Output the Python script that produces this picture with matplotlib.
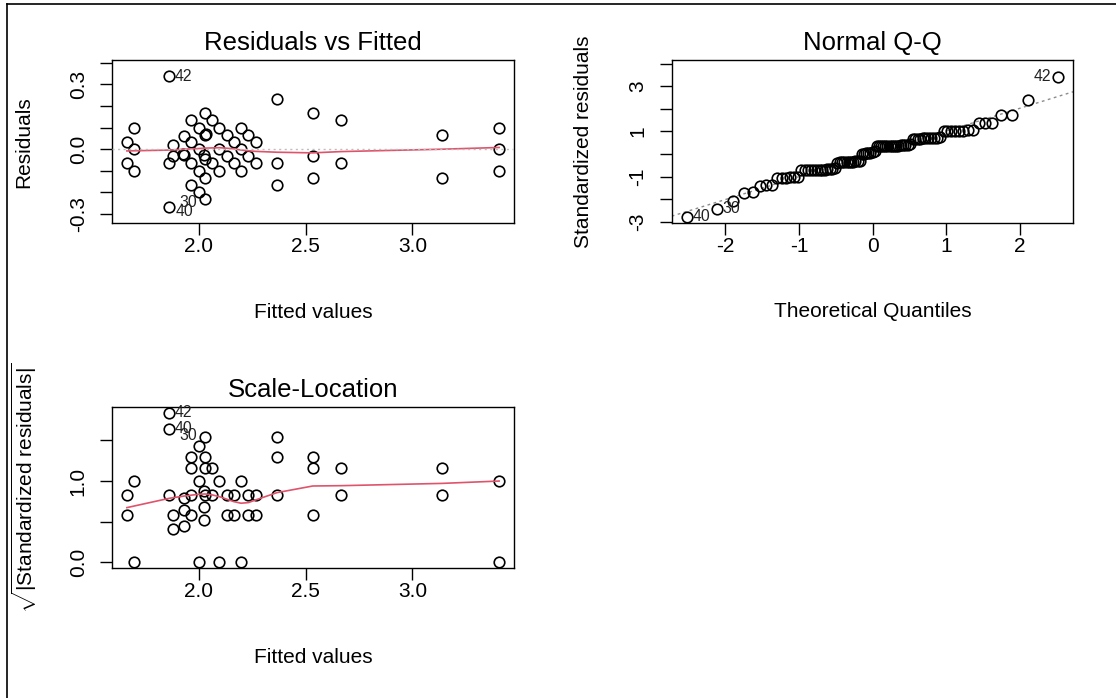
import matplotlib
matplotlib.use("Agg")
import matplotlib.pyplot as plt
from matplotlib.lines import Line2D

plt.rcParams['font.family'] = ['Liberation Sans', 'DejaVu Sans']
plt.rcParams['mathtext.fontset'] = 'custom'
plt.rcParams['mathtext.rm'] = 'Liberation Sans'
plt.rcParams['mathtext.it'] = 'Liberation Sans:italic'
plt.rcParams['mathtext.bf'] = 'Liberation Sans:bold'

# ---- Residuals vs Fitted ----
rvf_fitted = [1.664, 1.664, 1.698, 1.698, 1.698, 1.863, 1.863, 1.863, 1.881, 1.881,
              1.933, 1.933, 1.925, 1.964, 1.964, 1.964, 1.964, 2.000, 2.000, 2.000,
              2.000, 2.030, 2.030, 2.032, 2.023, 2.028, 2.030, 2.030, 2.064, 2.064,
              2.097, 2.097, 2.097, 2.131, 2.131, 2.164, 2.164, 2.198, 2.198, 2.198,
              2.233, 2.233, 2.266, 2.266, 2.366, 2.366, 2.366, 2.534, 2.534, 2.534,
              2.667, 2.667, 3.139, 3.139, 3.406, 3.406, 3.406]
rvf_resid = [0.033, -0.065, 0.100, 0.000, -0.100, 0.337, -0.065, -0.267, 0.020, -0.031,
             0.060, -0.027, -0.022, 0.135, 0.033, -0.065, -0.165, 0.100, 0.000, -0.100,
             -0.198, 0.168, 0.068, 0.072, -0.025, -0.045, -0.132, -0.232, 0.135, -0.065,
             0.100, 0.000, -0.100, 0.068, -0.031, 0.033, -0.065, 0.100, 0.000, -0.100,
             0.068, -0.031, 0.033, -0.065, 0.233, -0.065, -0.166, 0.168, -0.031, -0.132,
             0.135, -0.065, 0.068, -0.132, 0.100, 0.000, -0.100]
rvf_smooth_x = [1.664, 1.863, 1.933, 2.000, 2.030, 2.097, 2.164, 2.198, 2.266, 2.366,
                2.534, 2.667, 3.139, 3.406]
rvf_smooth_y = [-0.008, -0.004, 0.000, 0.003, 0.005, 0.007, 0.002, -0.004, -0.010, -0.014,
                -0.017, -0.011, 0.000, 0.008]
rvf_ids = {"42": 5, "40": 7, "30": 27}

# ---- Normal Q-Q ----
qq_theoretical = [-2.528, -2.114, -1.900, -1.748, -1.628, -1.529, -1.442, -1.364, -1.295, -1.231,
                  -1.172, -1.116, -1.064, -1.015, -0.967, -0.922, -0.879, -0.838, -0.797, -0.758,
                  -0.720, -0.684, -0.648, -0.612, -0.578, -0.544, -0.511, -0.479, -0.447, -0.415,
                  -0.384, -0.353, -0.322, -0.292, -0.262, -0.233, -0.203, -0.174, -0.145, -0.116,
                  -0.087, -0.058, -0.029, 0.000, 0.029, 0.058, 0.087, 0.116, 0.145, 0.174,
                  0.203, 0.233, 0.262, 0.292, 0.322, 0.353, 0.384, 0.415, 0.447, 0.479,
                  0.511, 0.544, 0.578, 0.612, 0.648, 0.684, 0.720, 0.758, 0.797, 0.838,
                  0.879, 0.922, 0.967, 1.015, 1.064, 1.116, 1.172, 1.231, 1.295, 1.364,
                  1.442, 1.529, 1.628, 1.748, 1.900, 2.114, 2.528]
qq_std_resid = [-2.78, -2.42, -2.08, -1.72, -1.70, -1.40, -1.39, -1.38,
                -1.06, -1.05, -1.05, -1.04, -1.03, -1.02,
                -0.72, -0.72, -0.71, -0.71, -0.70, -0.70, -0.70, -0.69, -0.69, -0.68, -0.67, -0.66, -0.64,
                -0.38, -0.37, -0.36, -0.36, -0.35, -0.35, -0.34, -0.34, -0.33, -0.32, -0.30,
                -0.02, 0.00, 0.02, 0.04, 0.06, 0.10, 0.15,
                0.33, 0.34, 0.34, 0.35, 0.35, 0.36, 0.36, 0.36, 0.37, 0.37, 0.37, 0.38, 0.38, 0.39, 0.40, 0.42,
                0.66, 0.67, 0.68, 0.68, 0.69, 0.69, 0.70, 0.70, 0.71, 0.72, 0.73,
                1.01, 1.02, 1.02, 1.03, 1.03, 1.03, 1.04, 1.05,
                1.36, 1.37, 1.39, 1.72, 1.74, 2.41, 3.43]
qq_line_intercept = 0.0
qq_line_slope = 1.01
qq_ids = {"40": 0, "30": 1, "42": 86}

# ---- Scale-Location ----
sl_fitted = [1.664, 1.664, 1.698, 1.698, 1.863, 1.863, 1.863, 1.881, 1.881, 1.933,
             1.933, 1.933, 1.964, 1.964, 1.964, 1.964, 2.000, 2.000, 2.000, 2.030,
             2.030, 2.030, 2.023, 2.030, 2.023, 2.023, 2.064, 2.064, 2.097, 2.097,
             2.131, 2.131, 2.164, 2.164, 2.198, 2.198, 2.233, 2.233, 2.266, 2.266,
             2.366, 2.366, 2.366, 2.534, 2.534, 2.534, 2.667, 2.667, 3.139, 3.139,
             3.406, 3.406]
sl_sqrt_std = [0.829, 0.584, 1.000, 0.000, 1.841, 1.645, 0.829, 0.584, 0.410, 0.790,
               0.645, 0.450, 1.300, 1.163, 0.829, 0.584, 1.430, 1.000, 0.000, 1.538,
               1.300, 1.163, 0.875, 0.829, 0.686, 0.518, 1.163, 0.829, 1.000, 0.000,
               0.829, 0.584, 0.829, 0.584, 1.000, 0.000, 0.829, 0.584, 0.829, 0.584,
               1.538, 1.300, 0.829, 1.300, 1.163, 0.584, 1.163, 0.829, 1.163, 0.829,
               1.000, 0.000]
sl_smooth_x = [1.664, 1.863, 1.933, 2.000, 2.030, 2.064, 2.097, 2.164, 2.198, 2.233,
               2.266, 2.366, 2.534, 2.667, 3.139, 3.406]
sl_smooth_y = [0.673, 0.788, 0.816, 0.837, 0.841, 0.829, 0.808, 0.747, 0.727, 0.735,
               0.767, 0.857, 0.939, 0.943, 0.971, 1.000]
sl_ids = {"42": 4, "40": 5, "30": 19}

# tick labels (R drops the ones that would overlap)
rvf_yticks = [-0.3, -0.2, -0.1, 0.0, 0.1, 0.2, 0.3, 0.4]
rvf_ylabels = ["-0.3", "", "", "0.0", "", "", "0.3", ""]
fit_xticks = [2.0, 2.5, 3.0]
fit_xlabels = ["2.0", "2.5", "3.0"]
qq_xticks = [-2, -1, 0, 1, 2]
qq_xlabels = ["-2", "-1", "0", "1", "2"]
qq_yticks = [-3, -2, -1, 0, 1, 2, 3, 4]
qq_ylabels = ["-3", "", "-1", "", "1", "", "3", ""]
sl_yticks = [0.0, 0.5, 1.0, 1.5]
sl_ylabels = ["0.0", "", "1.0", ""]

RED = "#DF536B"
GRAY = "#BEBEBE"
W, H = 1116, 698


def ext(lo, hi, f):
    d = (hi - lo) * f
    return lo - d, hi + d


def style(ax, title, xlabel, ylabel):
    for s in ax.spines.values():
        s.set_linewidth(1.0)
    ax.tick_params(direction="out", length=8.5, width=1.0, labelsize=15, pad=1.5)
    ax.tick_params(axis="y", pad=9)
    for lab in ax.get_yticklabels():
        lab.set_rotation(90)
        lab.set_va("center")
    ax.set_title(title, fontsize=18.5, pad=7)
    ax.set_xlabel(xlabel, fontsize=15, va="center")
    ax.set_ylabel(ylabel, fontsize=15, va="center")
    bb = ax.get_position()
    ax.xaxis.set_label_coords(0.5, -89.0 / (bb.height * H))
    ax.yaxis.set_label_coords(-88.0 / (bb.width * W), 0.5)


def points(ax, x, y):
    ax.plot(x, y, "o", ls="none", mfc="none", mec="black", ms=7.6, mew=1.2, zorder=3)


def ids(ax, x, y, idmap, offsets):
    for lab, i in idmap.items():
        dx, dy = offsets[lab]
        ax.annotate(lab, (x[i], y[i]), xytext=(dx, dy), textcoords="offset points",
                    ha="left" if dx > 0 else "right", va="center", fontsize=11.3,
                    color="#222222", annotation_clip=False, zorder=5)


fig = plt.figure(figsize=(W / 100, H / 100), dpi=100)
ax1 = fig.add_axes([112 / W, 1 - 223.3 / H, 402 / W, 163.3 / H])
ax2 = fig.add_axes([671.7 / W, 1 - 222.7 / H, 401.6 / W, 162.7 / H])
ax3 = fig.add_axes([112 / W, 1 - 568.3 / H, 402 / W, 161.6 / H])

# Residuals vs Fitted
points(ax1, rvf_fitted, rvf_resid)
ax1.plot(rvf_smooth_x, rvf_smooth_y, color=RED, lw=1.2, zorder=4)
ax1.axhline(0, color=GRAY, lw=1.0, dashes=(1.5, 2.5), zorder=4)
ids(ax1, rvf_fitted, rvf_resid, rvf_ids, {"42": (3.6, 0), "40": (4.8, -3.4), "30": (-5.6, -2.4)})
ax1.set_xlim(*ext(min(rvf_fitted), max(rvf_fitted), 0.04))
ax1.set_ylim(*ext(*ext(min(rvf_resid), max(rvf_resid), 0.08), 0.04))
ax1.set_xticks(fit_xticks, fit_xlabels)
ax1.set_yticks(rvf_yticks, rvf_ylabels)
style(ax1, "Residuals vs Fitted", "Fitted values", "Residuals")

# Normal Q-Q
points(ax2, qq_theoretical, qq_std_resid)
ax2.axline((0, qq_line_intercept), slope=qq_line_slope, color="#8C8C8C", lw=1.0,
           dashes=(2.0, 2.5), zorder=2)
ids(ax2, qq_theoretical, qq_std_resid, qq_ids, {"40": (4.0, 0), "30": (4.0, 0), "42": (-5.2, 0)})
ax2.set_xlim(*ext(min(qq_theoretical), max(qq_theoretical), 0.04))
lo, hi = min(qq_std_resid), max(qq_std_resid)
ax2.set_ylim(*ext(lo, hi + (hi - lo) * 0.075, 0.04))
ax2.set_xticks(qq_xticks, qq_xlabels)
ax2.set_yticks(qq_yticks, qq_ylabels)
style(ax2, "Normal Q-Q", "Theoretical Quantiles", "Standardized residuals")

# Scale-Location
points(ax3, sl_fitted, sl_sqrt_std)
ax3.plot(sl_smooth_x, sl_smooth_y, color=RED, lw=1.2, zorder=4)
ids(ax3, sl_fitted, sl_sqrt_std, sl_ids, {"42": (4.0, 0), "40": (4.0, 0), "30": (-6.0, 1.2)})
ax3.set_xlim(*ext(min(sl_fitted), max(sl_fitted), 0.04))
ax3.set_ylim(*ext(0, max(sl_sqrt_std), 0.04))
ax3.set_xticks(fit_xticks, fit_xlabels)
ax3.set_yticks(sl_yticks, sl_ylabels)
style(ax3, "Scale-Location", "Fitted values",
      r"$\sqrt{|\mathrm{Standardized\ residuals}|}$")

# window frame (top and left edges)
fig.add_artist(Line2D([7 / W, 1], [1 - 4 / H, 1 - 4 / H], transform=fig.transFigure,
                      color="black", lw=1.2))
fig.add_artist(Line2D([7 / W, 7 / W], [0, 1 - 4 / H], transform=fig.transFigure,
                      color="black", lw=1.2))

fig.savefig("out.png", dpi=100)
